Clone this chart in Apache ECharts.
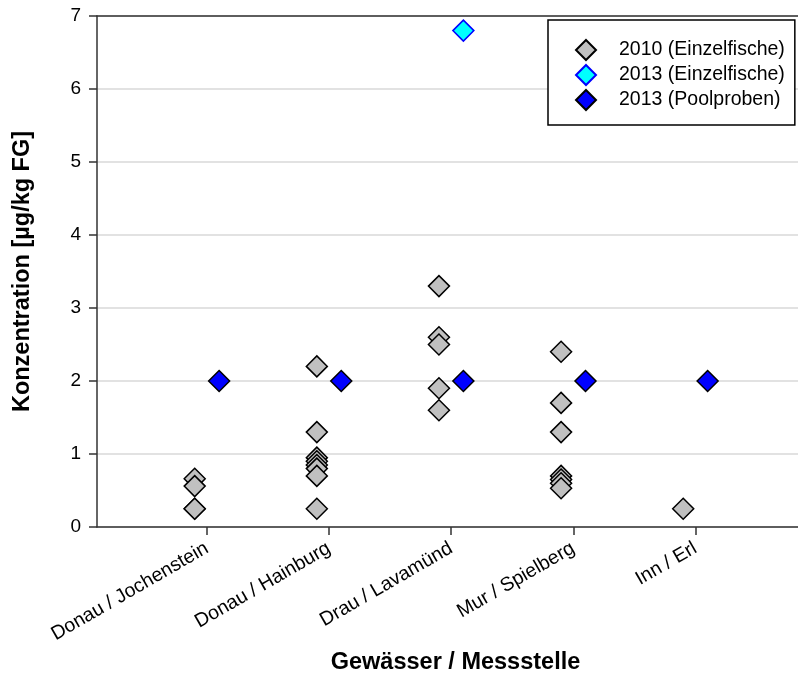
<!DOCTYPE html>
<html>
<head>
<meta charset="utf-8">
<script src="https://cdn.jsdelivr.net/npm/echarts@6/dist/echarts.min.js"></script>
<style>html,body{margin:0;padding:0;background:#fff;}#c{width:798px;height:673px;}</style>
</head>
<body>
<div id="c"></div>
<script>
const categories = ['Donau / Jochenstein', 'Donau / Hainburg', 'Drau / Lavamünd', 'Mur / Spielberg', 'Inn / Erl'];
const yTicks = [0, 1, 2, 3, 4, 5, 6, 7];
// [site index, value]
const einzel2010 = [
  [0, 0.66], [0, 0.56], [0, 0.25], [0, 0.25],
  [1, 2.2], [1, 1.3], [1, 0.95], [1, 0.9], [1, 0.85], [1, 0.8], [1, 0.7], [1, 0.25],
  [2, 3.3], [2, 2.6], [2, 2.5], [2, 1.9], [2, 1.6],
  [3, 2.4], [3, 1.7], [3, 1.3], [3, 0.7], [3, 0.65], [3, 0.6], [3, 0.53],
  [4, 0.25]
];
const einzel2013 = [[2, 6.8]];
const pool2013 = [[0, 2.0], [1, 2.0], [2, 2.0], [3, 2.0], [4, 2.0]];

const OFF = 0.1;
const toXY = (arr, off) => arr.map(d => [d[0] + 1 + off, d[1]]);
const font = 'Liberation Sans, Arial, sans-serif';

const chart = echarts.init(document.getElementById('c'));
chart.setOption({
  animation: false,
  backgroundColor: '#fff',
  grid: { left: 97, right: 0, top: 16, bottom: 146, outerBoundsMode: 'none', containLabel: false },
  xAxis: [{
    type: 'value', min: 0.1, max: 5.84,
    axisLine: { show: true, lineStyle: { color: '#333', width: 1.5 } },
    axisTick: { show: true, length: 8, inside: false, customValues: [1, 2, 3, 4, 5], lineStyle: { color: '#333', width: 1.5 } },
    axisLabel: {
      customValues: [1, 2, 3, 4, 5],
      formatter: v => categories[Math.round(v) - 1] || '',
      rotate: 30, margin: 20, fontSize: 19.5, color: '#000', fontFamily: font
    },
    splitLine: { show: false },
    name: 'Gewässer / Messstelle', nameLocation: 'middle', nameGap: 120,
    nameTextStyle: { fontSize: 23.5, fontWeight: 'bold', color: '#000', fontFamily: font, padding: [0, 0, 0, 16] }
  }, {
    type: 'value', position: 'top', min: 0.1, max: 5.84,
    axisLine: { show: true, lineStyle: { color: '#333', width: 1.5 } },
    axisTick: { show: false }, axisLabel: { show: false }, splitLine: { show: false }
  }],
  yAxis: {
    type: 'value', min: 0, max: 7, interval: 1,
    axisLine: { show: true, lineStyle: { color: '#333', width: 1.5 } },
    axisTick: { show: true, length: 8, lineStyle: { color: '#333', width: 1.5 } },
    axisLabel: { fontSize: 19, color: '#000', margin: 16, fontFamily: font,
      formatter: v => yTicks.includes(v) ? String(v) : '' },
    splitLine: { show: true, lineStyle: { color: '#d9d9d9', width: 1.5 } },
    name: 'Konzentration [µg/kg FG]', nameLocation: 'middle', nameGap: 62,
    nameTextStyle: { fontSize: 23.5, fontWeight: 'bold', color: '#000', fontFamily: font }
  },
  legend: {
    orient: 'vertical', left: 548, top: 20,
    backgroundColor: '#fff', borderColor: '#000', borderWidth: 1.5,
    padding: [19, 10, 14, 27], itemGap: 3,
    itemWidth: 20, itemHeight: 20,
    textStyle: { fontSize: 19.5, lineHeight: 20, color: '#000', fontFamily: font, padding: [0, 0, 0, 18] },
    data: ['2010 (Einzelfische)', '2013 (Einzelfische)', '2013 (Poolproben)']
  },
  series: [{
    name: '2010 (Einzelfische)', type: 'scatter', symbol: 'diamond', symbolSize: 21,
    itemStyle: { color: '#c0c0c0', borderColor: '#000', borderWidth: 1.5, opacity: 1 },
    data: toXY(einzel2010, -OFF)
  }, {
    name: '2013 (Einzelfische)', type: 'scatter', symbol: 'diamond', symbolSize: 21,
    itemStyle: { color: '#00ffff', borderColor: '#0000ff', borderWidth: 1.5, opacity: 1 },
    data: toXY(einzel2013, OFF)
  }, {
    name: '2013 (Poolproben)', type: 'scatter', symbol: 'diamond', symbolSize: 21,
    itemStyle: { color: '#0000ff', borderColor: '#000', borderWidth: 1.5, opacity: 1 },
    data: toXY(pool2013, OFF)
  }]
});
</script>
</body>
</html>
